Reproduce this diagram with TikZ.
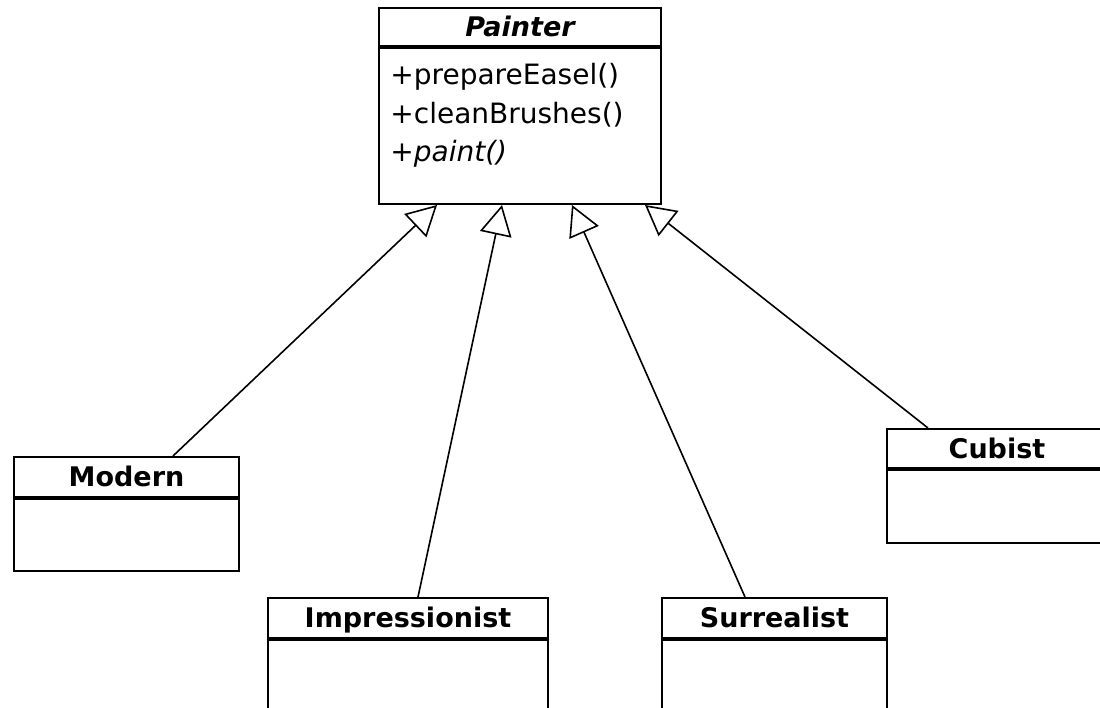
\documentclass[tikz,border=0pt]{standalone}
\usepackage{fontspec}
\setmainfont{DejaVu Sans}
\usetikzlibrary{arrows.meta}

\begin{document}
\begin{tikzpicture}[x=0.5pt,y=-0.5pt,
  classname/.style={draw,line width=1pt,anchor=north west,inner sep=0pt,
    minimum height=20pt,text height=12.5pt,text depth=2.7pt,
    font=\fontsize{13.5}{16}\selectfont\bfseries},
  classbody/.style={draw,line width=1pt,anchor=north west,inner sep=0pt},
  members/.style={anchor=north west,inner sep=0pt,align=left,
    font=\fontsize{14}{19.3}\selectfont},
  inherits/.style={line width=0.8pt,-{Triangle[open,length=15pt,width=16pt]}}]
\useasboundingbox (0,0) rectangle (1100,708);
\clip (0,0) rectangle (1100,708);
% abstract base class
\node[classname,minimum width=141pt,minimum height=19pt] (painter) at (378,7) {\itshape Painter};
\node[classbody,minimum width=141pt,minimum height=78pt] (painter body) at (painter.south west) {};
\node[members] (painter ops) at (390,63) {+prepareEasel()\\+cleanBrushes()\\\itshape +paint()};
% subclasses
\node[classname,minimum width=112.5pt] (modern) at (13,456) {Modern};
\node[classbody,minimum width=112.5pt,minimum height=36pt] (modern body) at (modern.south west) {};
\node[classname,minimum width=110pt,minimum height=19.5pt] (cubist) at (886,428) {Cubist};
\node[classbody,minimum width=110pt,minimum height=36.5pt] (cubist body) at (cubist.south west) {};
\node[classname,minimum width=140pt] (impressionist) at (267,597) {Impressionist};
\node[classbody,minimum width=140pt,minimum height=40pt] (impressionist body) at (impressionist.south west) {};
\node[classname,minimum width=112.5pt] (surrealist) at (661,597) {Surrealist};
\node[classbody,minimum width=112.5pt,minimum height=40pt] (surrealist body) at (surrealist.south west) {};
% generalizations
\draw[inherits] ([shift={(160,0)}]modern.north west) -- ([shift={(59,0)}]painter body.south west);
\draw[inherits] ([shift={(151,0)}]impressionist.north west) -- ([shift={(124,0)}]painter body.south west);
\draw[inherits] ([shift={(84,0)}]surrealist.north west) -- ([shift={(194,0)}]painter body.south west);
\draw[inherits] ([shift={(42,0)}]cubist.north west) -- ([shift={(267,0)}]painter body.south west);
\end{tikzpicture}
\end{document}
